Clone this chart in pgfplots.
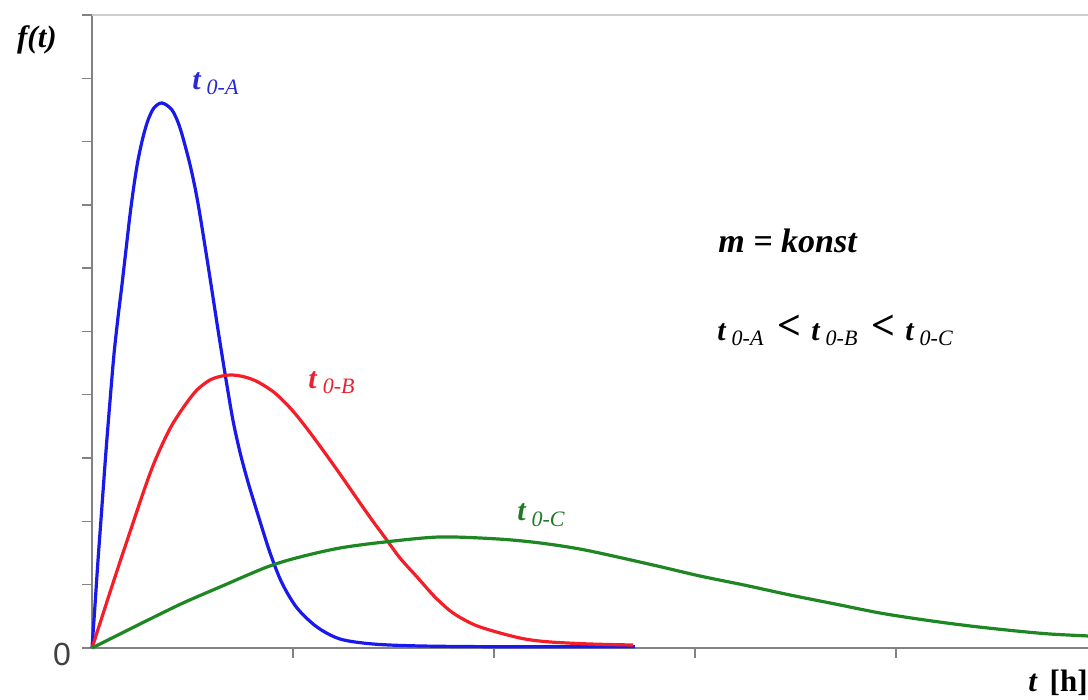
\documentclass[border=0pt]{standalone}
\usepackage{fontspec}
\setmainfont{Liberation Serif}
\newfontfamily\numfont{Liberation Sans}
\usepackage{pgfplots}
\pgfplotsset{compat=1.18}

\definecolor{axisgray}{RGB}{130,130,130}
\definecolor{framegray}{RGB}{205,205,205}
\definecolor{curveA}{RGB}{25,25,235}
\definecolor{curveB}{RGB}{245,30,40}
\definecolor{curveC}{RGB}{30,135,35}
\definecolor{labelA}{RGB}{40,40,215}
\definecolor{labelB}{RGB}{230,35,50}
\definecolor{labelC}{RGB}{35,120,40}

% t with an index such as 0-A
\newcommand\tz[1]{{\bfseries\itshape t}\kern3pt\raisebox{-2.6pt}{\fontsize{11pt}{12pt}\selectfont\itshape 0-#1}}
\newcommand\lt{\kern7pt\raisebox{0.5pt}{\fontsize{21pt}{22pt}\selectfont\bfseries <}\kern5pt}

% density curves for three values of t0
\pgfplotstableread{
x y
0     0
0.015 0.679
0.030 1.390
0.050 2.259
0.070 3.128
0.090 3.918
0.109 4.629
0.129 5.213
0.149 5.735
0.169 6.288
0.189 6.840
0.209 7.314
0.229 7.709
0.254 8.073
0.279 8.341
0.308 8.531
0.348 8.610
0.398 8.499
0.438 8.215
0.488 7.630
0.527 7.030
0.577 6.051
0.627 5.024
0.667 4.234
0.701 3.602
0.736 3.096
0.776 2.622
0.826 2.101
0.886 1.501
0.945 1.027
1.020 0.632
1.119 0.332
1.234 0.142
1.398 0.063
1.632 0.032
2.030 0.020
2.701 0.020
}\curveA

\pgfplotstableread{
x y
0     0
0.045 0.442
0.090 0.885
0.139 1.359
0.189 1.833
0.249 2.401
0.299 2.844
0.348 3.207
0.398 3.523
0.463 3.839
0.522 4.076
0.587 4.234
0.647 4.297
0.697 4.313
0.761 4.281
0.826 4.202
0.910 4.028
0.995 3.760
1.075 3.444
1.159 3.081
1.244 2.701
1.323 2.338
1.393 2.022
1.463 1.722
1.532 1.422
1.617 1.122
1.706 0.806
1.796 0.553
1.905 0.363
2.030 0.237
2.154 0.142
2.279 0.095
2.478 0.063
2.692 0.047
}\curveB

\pgfplotstableread{
x y
0     0
0.139 0.221
0.289 0.458
0.453 0.711
0.637 0.964
0.871 1.280
1.035 1.438
1.234 1.580
1.458 1.675
1.731 1.754
2.020 1.722
2.229 1.659
2.453 1.548
2.791 1.311
3.025 1.137
3.244 0.995
3.473 0.837
3.697 0.695
3.920 0.553
4.144 0.442
4.368 0.348
4.597 0.269
4.766 0.221
4.955 0.190
}\curveC

\begin{document}
\begin{tikzpicture}
\path[use as bounding box] (-46pt,-26pt) rectangle (498pt,324pt);
\begin{axis}[
  at={(0,0)}, anchor=south west,
  scale only axis, width=498pt, height=316.5pt,
  xmin=0, xmax=4.955, ymin=0, ymax=10,
  axis x line=bottom, axis y line=left,
  every outer x axis line/.append style={-},
  every outer y axis line/.append style={-},
  axis line style={-, draw=axisgray, line width=1.4pt},
  xtick={1,2,3,4}, ytick={0,1,...,10},
  xticklabels={}, yticklabels={},
  tick align=outside,
  major tick length=5pt,
  tick style={draw=axisgray, line width=0.7pt},
  clip=false,
]
\draw[framegray, line width=1pt] (rel axis cs:0,1) -- (rel axis cs:1,1);

\addplot[curveA, line width=1.6pt, smooth, no markers] table[x=x,y=y] {\curveA};
\addplot[curveB, line width=1.6pt, smooth, no markers] table[x=x,y=y] {\curveB};
\addplot[curveC, line width=1.6pt, smooth, no markers] table[x=x,y=y] {\curveC};

\node[anchor=west, text=labelA, font=\fontsize{15pt}{16pt}\selectfont, inner sep=0pt] at (axis cs:0.4975,8.91) {\tz{A}};
\node[anchor=west, text=labelB, font=\fontsize{15pt}{16pt}\selectfont, inner sep=0pt] at (axis cs:1.075,4.19) {\tz{B}};
\node[anchor=west, text=labelC, font=\fontsize{15pt}{16pt}\selectfont, inner sep=0pt] at (axis cs:2.114,2.10) {\tz{C}};

\node[anchor=west, font=\fontsize{17pt}{19pt}\selectfont\bfseries\itshape, inner sep=0pt] at (axis cs:3.114,6.43) {m = konst};
\node[anchor=west, font=\fontsize{15pt}{16pt}\selectfont, inner sep=0pt] at (axis cs:3.109,5.02)
  {\tz{A}\lt\tz{B}\lt\tz{C}};

\node[font=\fontsize{15.5pt}{17pt}\selectfont\bfseries\itshape] at (axis cs:-0.274,9.6) {f(t)};
\node[font=\fontsize{16pt}{17pt}\selectfont\numfont, text=black!75] at (axis cs:-0.149,-0.11) {0};
\node[anchor=east, inner sep=0pt, font=\fontsize{15.5pt}{17pt}\selectfont\bfseries] at (axis cs:4.955,-0.55) {\textit{t}\kern6pt[h]};
\end{axis}
\end{tikzpicture}
\end{document}
